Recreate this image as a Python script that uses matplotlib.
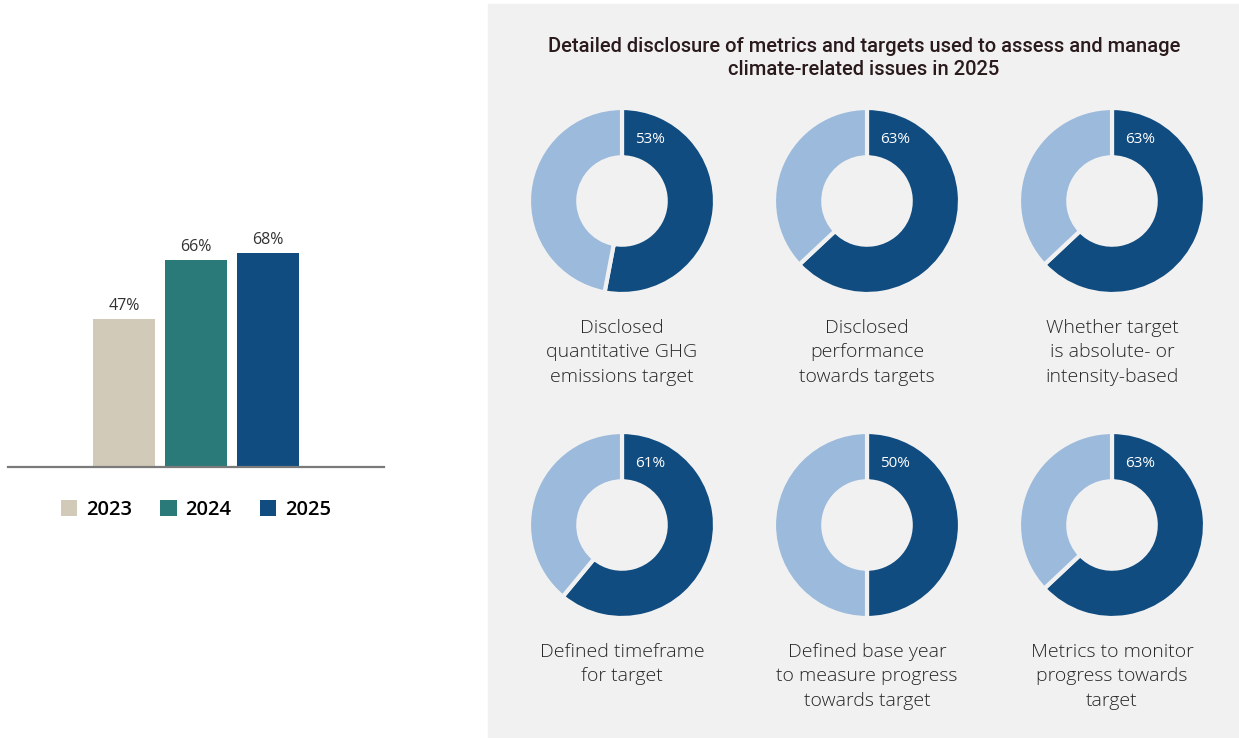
#!/usr/bin/env python3
"""climate_metrics.py"""

import matplotlib.pyplot as plt
from matplotlib.patches import Rectangle

# share of companies disclosing detailed metrics, by year
years = ["2023", "2024", "2025"]
year_share = [47, 66, 68]

# breakdown for 2025
metric_labels = [
    "Disclosed\nquantitative GHG\nemissions target",
    "Disclosed\nperformance\ntowards targets",
    "Whether target\nis absolute- or\nintensity-based",
    "Defined timeframe\nfor target",
    "Defined base year\nto measure progress\ntowards target",
    "Metrics to monitor\nprogress towards\ntarget",
]
metric_share = [53, 63, 63, 61, 50, 63]

TITLE = ("Detailed disclosure of metrics and targets used to assess and manage\n"
         "climate-related issues in 2025")

W, H = 1239, 738
DARK = "#104c80"
LIGHT = "#9bbadc"
TEAL = "#2a7a7a"
BEIGE = "#d2cab9"
PANEL = "#f1f1f1"

plt.rcParams["font.family"] = ["Open Sans", "DejaVu Sans"]


def fig_rect(x0, y0, x1, y1):
    """pixel box (top-left origin) -> figure fraction rect"""
    return [x0 / W, 1 - y1 / H, (x1 - x0) / W, (y1 - y0) / H]


def plot_bars(fig):
    # baseline at y=467 px, 100% spans ~314 px
    ax = fig.add_axes(fig_rect(8, 467 - 314, 384, 467))
    colors = [BEIGE, TEAL, DARK]
    x = range(len(years))
    bars = ax.bar(x, year_share, width=0.86, color=colors, label=years)
    for b, v in zip(bars, year_share):
        ax.text(b.get_x() + b.get_width() / 2, v + 1.6, f"{v}%",
                ha="center", va="bottom", fontsize=11.5, color="#333333")
    ax.set_xlim(-1.611, 3.611)
    ax.set_ylim(0, 100)
    ax.axhline(0, color="#7a7a7a", lw=1.6, zorder=3, clip_on=False)
    ax.axis("off")
    ax.legend(bars, years, loc="upper center", bbox_to_anchor=(0.5, -0.047),
              ncol=3, frameon=False, handlelength=0.8,
              handleheight=0.8, handletextpad=0.45, columnspacing=1.42,
              prop={"size": 14.5, "weight": "semibold"})


def plot_donuts(fig):
    # grey panel behind the donuts
    fig.patches.append(Rectangle((488 / W, 0), 1 - 488 / W, 1 - 4 / H,
                                 transform=fig.transFigure, color=PANEL,
                                 zorder=-1))
    fig.text(864 / W, 1 - 58 / H, TITLE, ha="center", va="center",
             fontsize=14.5, fontweight="medium", color="#2a1a1c",
             family=["Roboto", "DejaVu Sans"], linespacing=1.3)

    cols = [622, 867, 1112]
    rows = [201, 525]
    r = 93
    for i, (label, v) in enumerate(zip(metric_labels, metric_share)):
        cx, cy = cols[i % 3], rows[i // 3]
        ax = fig.add_axes(fig_rect(cx - r, cy - r, cx + r, cy + r))
        ax.pie([v, 100 - v], colors=[DARK, LIGHT], startangle=90,
               counterclock=False, radius=1,
               wedgeprops=dict(width=0.53, edgecolor=PANEL, linewidth=3))
        ax.set_xlim(-1, 1)
        ax.set_ylim(-1, 1)
        ax.set_aspect("equal")
        ax.text(0.3, 0.66, f"{v}%", ha="center", va="center",
                fontsize=11, color="white")
        ax.text(0, -1.27, label, ha="center", va="top", fontsize=14,
                fontweight="light", color="#262626", linespacing=1.45)
        ax.axis("off")


def main():
    fig = plt.figure(figsize=(W / 100, H / 100), dpi=100, facecolor="white")
    plot_donuts(fig)
    plot_bars(fig)
    fig.savefig("out.png", dpi=100)


if __name__ == "__main__":
    main()
